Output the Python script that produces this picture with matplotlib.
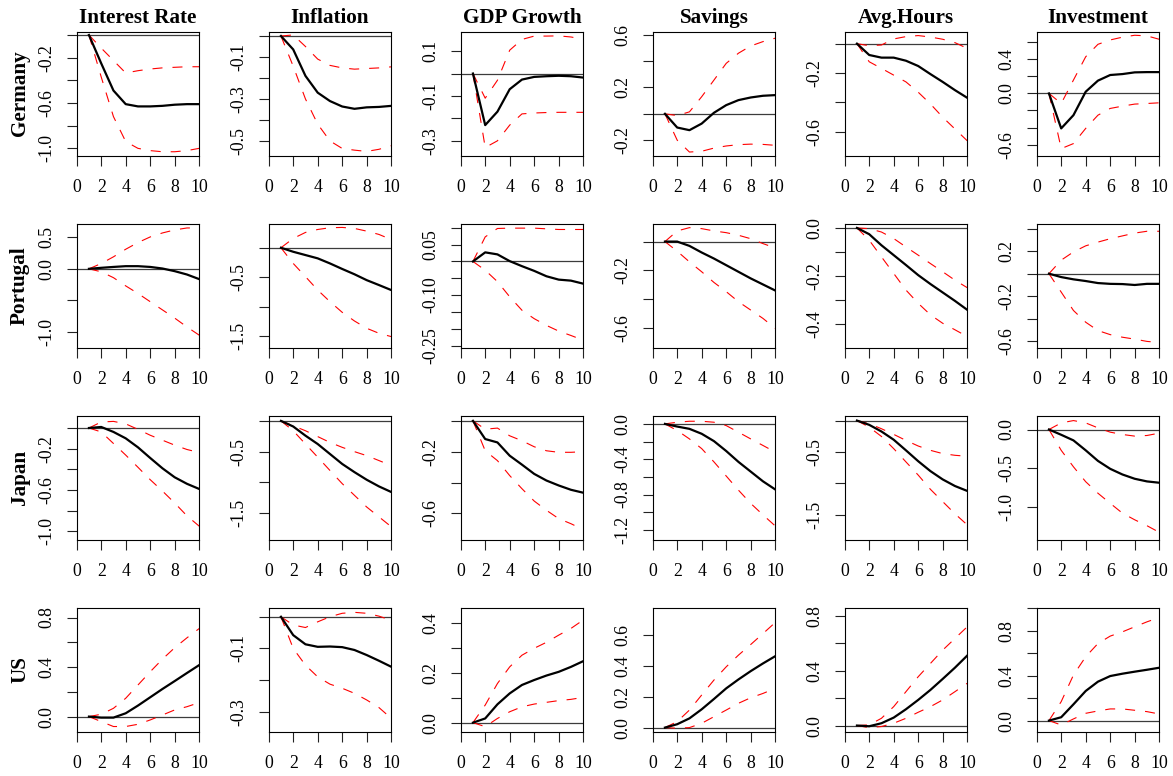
import matplotlib
matplotlib.use("Agg")
import matplotlib.pyplot as plt

# ---------------- data ----------------
horizon = [1, 2, 3, 4, 5, 6, 7, 8, 9, 10]
variables = ["Interest Rate", "Inflation", "GDP Growth", "Savings", "Avg.Hours", "Investment"]
countries = ["Germany", "Portugal", "Japan", "US"]
x_ticks = [0, 2, 4, 6, 8, 10]

# Germany
ger_rate = [0, -0.25, -0.49, -0.61, -0.63, -0.63, -0.625, -0.615, -0.61, -0.61]
ger_rate_hi = [0, -0.115, -0.225, -0.335, -0.315, -0.30, -0.29, -0.285, -0.28, -0.28]
ger_rate_lo = [0, -0.37, -0.72, -0.94, -1.0, -1.02, -1.03, -1.03, -1.02, -1.0]
ger_infl = [0, -0.064, -0.19, -0.27, -0.31, -0.336, -0.347, -0.34, -0.338, -0.333]
ger_infl_hi = [0, 0.005, -0.05, -0.11, -0.14, -0.152, -0.158, -0.155, -0.152, -0.147]
ger_infl_lo = [0, -0.144, -0.30, -0.42, -0.50, -0.536, -0.544, -0.55, -0.54, -0.523]
ger_gdp = [0, -0.23, -0.17, -0.07, -0.027, -0.015, -0.012, -0.01, -0.012, -0.018]
ger_gdp_hi = [0, -0.11, -0.03, 0.104, 0.152, 0.167, 0.167, 0.168, 0.163, 0.153]
ger_gdp_lo = [0, -0.33, -0.30, -0.23, -0.18, -0.176, -0.174, -0.173, -0.173, -0.173]
ger_sav = [0, -0.104, -0.124, -0.074, 0.008, 0.066, 0.104, 0.124, 0.137, 0.142]
ger_sav_hi = [0, -0.013, 0.015, 0.13, 0.256, 0.383, 0.46, 0.515, 0.548, 0.574]
ger_sav_lo = [0, -0.2, -0.29, -0.284, -0.26, -0.244, -0.234, -0.23, -0.232, -0.239]
ger_hours = [0, -0.077, -0.095, -0.095, -0.116, -0.152, -0.207, -0.26, -0.316, -0.368]
ger_hours_hi = [0, -0.014, -0.009, 0.032, 0.048, 0.055, 0.045, 0.03, 0.007, -0.032]
ger_hours_lo = [0, -0.123, -0.168, -0.214, -0.26, -0.33, -0.41, -0.5, -0.58, -0.66]
ger_inv = [0, -0.41, -0.255, 0.02, 0.15, 0.216, 0.227, 0.247, 0.25, 0.25]
ger_inv_hi = [0, -0.118, 0.157, 0.43, 0.576, 0.627, 0.66, 0.682, 0.675, 0.635]
ger_inv_lo = [0, -0.647, -0.588, -0.41, -0.255, -0.176, -0.149, -0.125, -0.118, -0.11]

# Portugal
por_rate = [0, 0.016, 0.03, 0.042, 0.042, 0.03, 0.005, -0.037, -0.09, -0.163]
por_rate_hi = [0, 0.084, 0.19, 0.31, 0.416, 0.505, 0.568, 0.616, 0.647, 0.647]
por_rate_lo = [0, -0.047, -0.14, -0.27, -0.39, -0.52, -0.65, -0.78, -0.92, -1.05]
por_infl = [0, -0.068, -0.124, -0.18, -0.266, -0.36, -0.45, -0.55, -0.633, -0.718]
por_infl_hi = [0, 0.158, 0.26, 0.31, 0.34, 0.345, 0.328, 0.282, 0.226, 0.14]
por_infl_lo = [0, -0.266, -0.49, -0.718, -0.915, -1.096, -1.243, -1.367, -1.452, -1.508]
por_gdp = [0, 0.027, 0.021, 0.001, -0.014, -0.028, -0.044, -0.054, -0.057, -0.066]
por_gdp_hi = [0, 0.073, 0.098, 0.099, 0.099, 0.099, 0.097, 0.095, 0.095, 0.095]
por_gdp_lo = [0, -0.026, -0.06, -0.105, -0.145, -0.17, -0.19, -0.207, -0.22, -0.234]
por_sav = [0, 0.0, -0.03, -0.076, -0.118, -0.164, -0.21, -0.256, -0.298, -0.34]
por_sav_hi = [0, 0.074, 0.097, 0.09, 0.074, 0.062, 0.044, 0.02, -0.014, -0.044]
por_sav_lo = [0, -0.067, -0.141, -0.21, -0.284, -0.348, -0.418, -0.476, -0.534, -0.603]
por_hours = [0, -0.026, -0.072, -0.113, -0.154, -0.196, -0.233, -0.268, -0.303, -0.34]
por_hours_hi = [0, -0.003, -0.017, -0.044, -0.079, -0.113, -0.148, -0.182, -0.217, -0.248]
por_hours_lo = [0, -0.051, -0.12, -0.189, -0.258, -0.313, -0.361, -0.396, -0.423, -0.451]
por_inv = [0, -0.03, -0.05, -0.065, -0.083, -0.09, -0.092, -0.10, -0.09, -0.09]
por_inv_hi = [0, 0.12, 0.193, 0.247, 0.28, 0.31, 0.335, 0.36, 0.376, 0.376]
por_inv_lo = [0, -0.163, -0.326, -0.43, -0.504, -0.54, -0.563, -0.58, -0.6, -0.61]

# Japan
jpn_rate = [0, 0.01, -0.038, -0.1, -0.187, -0.29, -0.39, -0.477, -0.54, -0.59]
jpn_rate_hi = [0, 0.058, 0.064, 0.04, -0.013, -0.07, -0.118, -0.166, -0.208, -0.237]
jpn_rate_lo = [0, -0.038, -0.15, -0.262, -0.38, -0.5, -0.61, -0.726, -0.85, -0.95]
jpn_infl = [0, -0.091, -0.24, -0.376, -0.538, -0.7, -0.833, -0.957, -1.065, -1.156]
jpn_infl_hi = [0, -0.08, -0.16, -0.255, -0.35, -0.43, -0.5, -0.565, -0.645, -0.726]
jpn_infl_lo = [0, -0.16, -0.376, -0.59, -0.806, -1.02, -1.21, -1.4, -1.56, -1.72]
jpn_gdp = [0, -0.118, -0.14, -0.226, -0.284, -0.344, -0.387, -0.419, -0.447, -0.466]
jpn_gdp_hi = [0, -0.054, -0.047, -0.097, -0.129, -0.168, -0.194, -0.204, -0.204, -0.2]
jpn_gdp_lo = [0, -0.194, -0.258, -0.355, -0.44, -0.52, -0.58, -0.634, -0.667, -0.705]
jpn_sav = [0, -0.03, -0.056, -0.112, -0.195, -0.307, -0.43, -0.54, -0.65, -0.742]
jpn_sav_hi = [0, 0.019, 0.03, 0.03, 0.019, -0.019, -0.094, -0.17, -0.244, -0.319]
jpn_sav_lo = [0, -0.075, -0.17, -0.28, -0.43, -0.59, -0.75, -0.9, -1.03, -1.155]
jpn_hours = [0, -0.068, -0.174, -0.305, -0.474, -0.647, -0.805, -0.937, -1.042, -1.12]
jpn_hours_hi = [0, -0.05, -0.13, -0.22, -0.316, -0.405, -0.474, -0.526, -0.553, -0.568]
jpn_hours_lo = [0, -0.105, -0.253, -0.447, -0.658, -0.868, -1.095, -1.29, -1.484, -1.66]
jpn_inv = [0, -0.068, -0.14, -0.268, -0.404, -0.506, -0.579, -0.634, -0.668, -0.685]
jpn_inv_hi = [0, 0.085, 0.115, 0.085, 0.021, -0.034, -0.064, -0.085, -0.077, -0.047]
jpn_inv_lo = [0, -0.268, -0.48, -0.672, -0.82, -0.95, -1.077, -1.162, -1.238, -1.323]

# US
us_rate = [0, -0.008, -0.008, 0.027, 0.089, 0.156, 0.223, 0.287, 0.352, 0.416]
us_rate_hi = [0, 0.019, 0.067, 0.148, 0.255, 0.362, 0.464, 0.556, 0.636, 0.711]
us_rate_lo = [0, -0.04, -0.08, -0.08, -0.062, -0.027, 0.013, 0.054, 0.08, 0.113]
us_infl = [0, -0.058, -0.087, -0.095, -0.094, -0.096, -0.105, -0.121, -0.139, -0.158]
us_infl_hi = [0, -0.026, -0.034, -0.016, 0.0, 0.011, 0.014, 0.011, 0.002, -0.011]
us_infl_lo = [0, -0.1, -0.153, -0.19, -0.213, -0.226, -0.242, -0.263, -0.287, -0.321]
us_gdp = [0, 0.017, 0.074, 0.118, 0.152, 0.172, 0.19, 0.205, 0.225, 0.248]
us_gdp_hi = [0, 0.071, 0.158, 0.225, 0.272, 0.3, 0.324, 0.353, 0.38, 0.414]
us_gdp_lo = [0, -0.016, 0.017, 0.044, 0.064, 0.075, 0.082, 0.089, 0.094, 0.102]
us_sav = [0, 0.022, 0.06, 0.119, 0.186, 0.255, 0.313, 0.367, 0.417, 0.464]
us_sav_hi = [0, 0.039, 0.114, 0.212, 0.309, 0.395, 0.471, 0.54, 0.611, 0.683]
us_sav_lo = [0, -0.004, 0.0, 0.028, 0.071, 0.114, 0.158, 0.194, 0.222, 0.255]
us_hours = [0, -0.005, 0.017, 0.058, 0.119, 0.187, 0.26, 0.34, 0.422, 0.51]
us_hours_hi = [0, 0.005, 0.053, 0.138, 0.247, 0.356, 0.453, 0.55, 0.635, 0.72]
us_hours_lo = [0, -0.015, -0.007, 0.017, 0.053, 0.097, 0.138, 0.187, 0.247, 0.308]
us_inv = [0, 0.03, 0.145, 0.264, 0.347, 0.397, 0.418, 0.436, 0.453, 0.471]
us_inv_hi = [0, 0.169, 0.406, 0.569, 0.687, 0.753, 0.791, 0.836, 0.88, 0.919]
us_inv_lo = [0, -0.039, 0.015, 0.065, 0.086, 0.104, 0.104, 0.092, 0.08, 0.059]

# y-axis ticks (all ticks) and which of them carry a label
ger_rate_yt, ger_rate_yl = [-1.0, -0.8, -0.6, -0.4, -0.2, 0.0], [-1.0, -0.6, -0.2]
ger_infl_yt, ger_infl_yl = [-0.5, -0.4, -0.3, -0.2, -0.1, 0.0], [-0.5, -0.3, -0.1]
ger_gdp_yt, ger_gdp_yl = [-0.3, -0.2, -0.1, 0.0, 0.1], [-0.3, -0.1, 0.1]
ger_sav_yt, ger_sav_yl = [-0.2, 0.0, 0.2, 0.4, 0.6], [-0.2, 0.2, 0.6]
ger_hours_yt, ger_hours_yl = [-0.6, -0.4, -0.2, 0.0], [-0.6, -0.2]
ger_inv_yt, ger_inv_yl = [-0.6, -0.4, -0.2, 0.0, 0.2, 0.4, 0.6], [-0.6, 0.0, 0.4]
por_rate_yt, por_rate_yl = [-1.0, -0.5, 0.0, 0.5], [-1.0, 0.0, 0.5]
por_infl_yt, por_infl_yl = [-1.5, -1.0, -0.5, 0.0], [-1.5, -0.5]
por_gdp_yt, por_gdp_yl = [-0.25, -0.20, -0.15, -0.10, -0.05, 0.0, 0.05, 0.10], [-0.25, -0.10, 0.05]
por_sav_yt, por_sav_yl = [-0.6, -0.4, -0.2, 0.0], [-0.6, -0.2]
por_hours_yt, por_hours_yl = [-0.4, -0.3, -0.2, -0.1, 0.0], [-0.4, -0.2, 0.0]
por_inv_yt, por_inv_yl = [-0.6, -0.4, -0.2, 0.0, 0.2, 0.4], [-0.6, -0.2, 0.2]
jpn_rate_yt, jpn_rate_yl = [-1.0, -0.8, -0.6, -0.4, -0.2, 0.0], [-1.0, -0.6, -0.2]
jpn_infl_yt, jpn_infl_yl = [-1.5, -1.0, -0.5, 0.0], [-1.5, -0.5]
jpn_gdp_yt, jpn_gdp_yl = [-0.6, -0.4, -0.2, 0.0], [-0.6, -0.2]
jpn_sav_yt, jpn_sav_yl = [-1.2, -1.0, -0.8, -0.6, -0.4, -0.2, 0.0], [-1.2, -0.8, -0.4, 0.0]
jpn_hours_yt, jpn_hours_yl = [-1.5, -1.0, -0.5, 0.0], [-1.5, -0.5]
jpn_inv_yt, jpn_inv_yl = [-1.0, -0.5, 0.0], [-1.0, -0.5, 0.0]
us_rate_yt, us_rate_yl = [0.0, 0.2, 0.4, 0.6, 0.8], [0.0, 0.4, 0.8]
us_infl_yt, us_infl_yl = [-0.3, -0.2, -0.1, 0.0], [-0.3, -0.1]
us_gdp_yt, us_gdp_yl = [0.0, 0.1, 0.2, 0.3, 0.4], [0.0, 0.2, 0.4]
us_sav_yt, us_sav_yl = [0.0, 0.2, 0.4, 0.6], [0.0, 0.2, 0.4, 0.6]
us_hours_yt, us_hours_yl = [0.0, 0.2, 0.4, 0.6, 0.8], [0.0, 0.4, 0.8]
us_inv_yt, us_inv_yl = [0.0, 0.2, 0.4, 0.6, 0.8, 1.0], [0.0, 0.4, 0.8]

panels = [
    [(ger_rate, ger_rate_lo, ger_rate_hi, ger_rate_yt, ger_rate_yl),
     (ger_infl, ger_infl_lo, ger_infl_hi, ger_infl_yt, ger_infl_yl),
     (ger_gdp, ger_gdp_lo, ger_gdp_hi, ger_gdp_yt, ger_gdp_yl),
     (ger_sav, ger_sav_lo, ger_sav_hi, ger_sav_yt, ger_sav_yl),
     (ger_hours, ger_hours_lo, ger_hours_hi, ger_hours_yt, ger_hours_yl),
     (ger_inv, ger_inv_lo, ger_inv_hi, ger_inv_yt, ger_inv_yl)],
    [(por_rate, por_rate_lo, por_rate_hi, por_rate_yt, por_rate_yl),
     (por_infl, por_infl_lo, por_infl_hi, por_infl_yt, por_infl_yl),
     (por_gdp, por_gdp_lo, por_gdp_hi, por_gdp_yt, por_gdp_yl),
     (por_sav, por_sav_lo, por_sav_hi, por_sav_yt, por_sav_yl),
     (por_hours, por_hours_lo, por_hours_hi, por_hours_yt, por_hours_yl),
     (por_inv, por_inv_lo, por_inv_hi, por_inv_yt, por_inv_yl)],
    [(jpn_rate, jpn_rate_lo, jpn_rate_hi, jpn_rate_yt, jpn_rate_yl),
     (jpn_infl, jpn_infl_lo, jpn_infl_hi, jpn_infl_yt, jpn_infl_yl),
     (jpn_gdp, jpn_gdp_lo, jpn_gdp_hi, jpn_gdp_yt, jpn_gdp_yl),
     (jpn_sav, jpn_sav_lo, jpn_sav_hi, jpn_sav_yt, jpn_sav_yl),
     (jpn_hours, jpn_hours_lo, jpn_hours_hi, jpn_hours_yt, jpn_hours_yl),
     (jpn_inv, jpn_inv_lo, jpn_inv_hi, jpn_inv_yt, jpn_inv_yl)],
    [(us_rate, us_rate_lo, us_rate_hi, us_rate_yt, us_rate_yl),
     (us_infl, us_infl_lo, us_infl_hi, us_infl_yt, us_infl_yl),
     (us_gdp, us_gdp_lo, us_gdp_hi, us_gdp_yt, us_gdp_yl),
     (us_sav, us_sav_lo, us_sav_hi, us_sav_yt, us_sav_yl),
     (us_hours, us_hours_lo, us_hours_hi, us_hours_yt, us_hours_yl),
     (us_inv, us_inv_lo, us_inv_hi, us_inv_yt, us_inv_yl)],
]

# ---------------- layout (axis limits, pixels) ----------------
ylims = [
    [(-1.064, 0.03), (-0.57, 0.021), (-0.366, 0.187), (-0.317, 0.624), (-0.761, 0.082), (-0.729, 0.725)],
    [(-1.247, 0.716), (-1.695, 0.41), (-0.256, 0.1125), (-0.737, 0.125), (-0.497, 0.018), (-0.655, 0.444)],
    [(-1.08, 0.12), (-1.93, 0.086), (-0.77, 0.034), (-1.31, 0.094), (-1.895, 0.079), (-1.417, 0.179)],
    [(-0.121, 0.88), (-0.363, 0.029), (-0.036, 0.464), (-0.026, 0.78), (-0.044, 0.86), (-0.098, 1.007)],
]

W, H = 1173, 776
DPI = 100
col_left0, col_step, panel_w = 76.7, 192.0, 122.5
row_top0, row_step, panel_h = 31.6, 192.0, 124.0

plt.rcParams["font.family"] = ["Liberation Serif", "DejaVu Serif"]
fig = plt.figure(figsize=(W / DPI, H / DPI), dpi=DPI)


def fmt(v, ticks):
    dec = 2 if any(abs(round(t * 10) - t * 10) > 1e-9 for t in ticks) else 1
    s = f"{round(v, dec) + 0.0:.{dec}f}"
    return s


for r, country in enumerate(countries):
    for c, var in enumerate(variables):
        resp, lo, hi, yt, yl = panels[r][c]
        left = col_left0 + c * col_step
        top = row_top0 + r * row_step
        ax = fig.add_axes([left / W, 1 - (top + panel_h) / H, panel_w / W, panel_h / H])
        ax.axhline(0, color="#3c3c3c", lw=0.9, zorder=1)
        ax.plot(horizon, lo, color="red", lw=0.8, ls=(0, (9, 9)), zorder=2)
        ax.plot(horizon, hi, color="red", lw=0.8, ls=(0, (9, 9)), zorder=2)
        ax.plot(horizon, resp, color="black", lw=1.6, zorder=3)
        ax.set_xlim(0, 10)
        ax.set_ylim(*ylims[r][c])
        ax.set_xticks(x_ticks)
        ax.set_xticklabels([str(t) for t in x_ticks])
        ax.set_yticks(yt)
        ax.set_yticklabels([fmt(t, yt) if any(abs(t - l) < 1e-9 for l in yl) else "" for t in yt],
                           rotation=90, va="center")
        ax.tick_params(axis="both", direction="out", length=7.2, width=0.8,
                       labelsize=12.8, color="#222222")
        ax.tick_params(axis="x", pad=9.5)
        ax.tick_params(axis="y", pad=8)
        for sp in ax.spines.values():
            sp.set_linewidth(0.8)
            sp.set_color("black")
        if r == 0:
            fig.text((left + panel_w / 2) / W, 1 - 18 / H, var, ha="center", va="center",
                     fontsize=15.2, fontweight="bold")
        if c == 0:
            fig.text(20 / W, 1 - (top + panel_h / 2) / H, country, ha="center", va="center",
                     rotation=90, fontsize=15.2, fontweight="bold")

fig.savefig("out.png", dpi=DPI)
